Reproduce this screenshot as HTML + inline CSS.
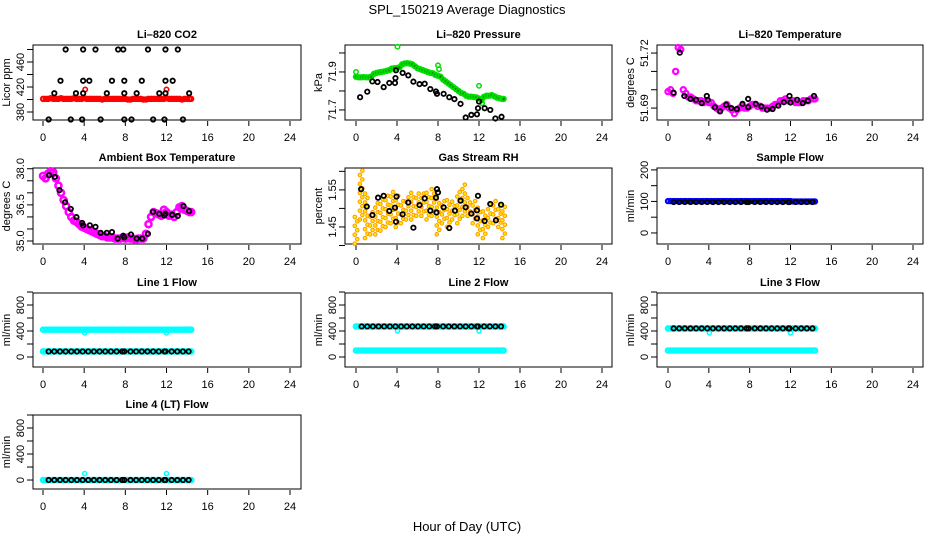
<!DOCTYPE html>
<html><head><meta charset="utf-8"><title>SPL_150219 Average Diagnostics</title>
<style>
html,body{margin:0;padding:0;background:#fff;}
svg{display:block;font-family:"Liberation Sans",Arial,sans-serif;}
</style></head>
<body>
<svg id="chart" width="936" height="540" viewBox="0 0 936 540" xmlns="http://www.w3.org/2000/svg">
<rect x="0" y="0" width="936" height="540" fill="#fff"/>
<text x="467" y="14" font-size="13" text-anchor="middle">SPL_150219  Average Diagnostics</text>
<text x="467" y="531" font-size="13" text-anchor="middle">Hour of Day (UTC)</text>
</svg>
<script>
// ---------- data ----------
const gridHours = [0,0.25,0.5,0.75,1,1.25,1.5,1.75,2,2.25,2.5,2.75,3,3.25,3.5,3.75,4,4.25,4.5,4.75,5,5.25,5.5,5.75,6,6.25,6.5,6.75,7,7.25,7.5,7.75,8,8.25,8.5,8.75,9,9.25,9.5,9.75,10,10.25,10.5,10.75,11,11.25,11.5,11.75,12,12.25,12.5,12.75,13,13.25,13.5,13.75,14,14.25,14.4];
const sparseHours = [0.55,1.1,1.65,2.2,2.75,3.3,3.85,4.4,4.95,5.5,6.05,6.6,7.15,7.7,7.9,8.5,9.05,9.6,10.15,10.7,11.25,11.8,11.9,12.5,13.05,13.6,14.15];
const xTicks = [0,4,8,12,16,20,24];

// CO2
const co2Red = [401,401,401,402,401,401,401,402,401,401,401,401,402,401,401,401,402,401,401,401,401,401,401,400,401,401,401,401,401,401,401,401,401,400,400,401,401,401,401,400,400,401,401,401,401,401,401,401,402,401,401,401,401,401,400,401,401,401,401];
const co2RedOutHours = [4.1,12.0];
const co2RedOutVals = [416,416];
const co2BlackHours = [2.2,3.9,5.1,7.3,7.8,10.2,11.9,13.1, 1.7,3.9,4.5,6.7,7.9,9.6,11.9,12.6, 1.1,3.2,3.9,6.2,7.9,9.1,11.3,11.9,14.2, 0.55,2.7,3.8,5.6,7.9,8.6,10.7,11.8,13.6];
const co2BlackVals = [480,480,480,480,480,480,480,480, 430,430,430,430,430,430,430,430, 410,410,410,410,410,410,410,410,410, 368,368,368,368,368,368,368,368,368];

// Pressure
const presGreen = [71.875,71.872,71.872,71.873,71.872,71.872,71.876,71.89,71.895,71.898,71.9,71.903,71.906,71.91,71.918,71.92,71.921,71.925,71.94,71.945,71.946,71.944,71.94,71.93,71.92,71.915,71.91,71.905,71.9,71.895,71.893,71.885,71.88,71.875,71.86,71.85,71.84,71.83,71.82,71.81,71.8,71.79,71.785,71.775,71.77,71.77,71.768,71.766,71.76,71.752,71.77,71.775,71.775,71.778,71.772,71.765,71.762,71.758,71.758];
const presGreenOutHours = [0,4.05,8.0,8.1,12.0,12.3];
const presGreenOutVals = [71.9,72.033,71.935,71.915,71.827,71.735];
const presBlackHours = [0.4,1.1,1.6,2.1,2.7,3.25,3.8,3.85,3.9,4.55,5.1,5.6,6.2,6.7,7.25,7.8,7.9,8.55,9.1,9.6,10.2,10.7,11.25,11.8,11.9,12.0,12.55,13.1,13.6,14.2];
const presBlackVals = [71.767,71.796,71.85,71.847,71.82,71.842,71.842,71.868,71.909,71.895,71.882,71.849,71.836,71.838,71.81,71.797,71.785,71.785,71.767,71.757,71.732,71.66,71.674,71.677,71.709,71.744,71.709,71.7,71.655,71.664];

// Li-820 temperature
const tempMag = [51.699,51.7,51.698,51.71,51.723,51.722,51.7,51.698,51.696,51.696,51.695,51.694,51.694,51.694,51.693,51.694,51.693,51.693,51.691,51.69,51.689,51.69,51.691,51.692,51.69,51.689,51.687,51.689,51.69,51.691,51.69,51.69,51.691,51.692,51.692,51.691,51.691,51.69,51.69,51.69,51.69,51.691,51.692,51.692,51.694,51.694,51.695,51.694,51.694,51.694,51.693,51.693,51.693,51.694,51.694,51.694,51.695,51.695,51.695];
const tempBlackHours = [0.55,1.15,1.6,2.2,2.75,3.3,3.8,3.9,4.6,5.1,5.7,6.2,6.75,7.3,7.85,7.85,8.6,9.15,9.7,10.25,10.8,11.35,11.9,12.0,12.65,13.2,13.7,14.3];
const tempBlackVals = [51.6984,51.7202,51.6966,51.695,51.6945,51.6927,51.6966,51.6945,51.6904,51.6882,51.6918,51.69,51.6895,51.6923,51.695,51.6905,51.6923,51.6909,51.6891,51.6895,51.6913,51.6932,51.6966,51.693,51.6945,51.6927,51.694,51.6966];

// Ambient box temperature
const ambMag = [37.7,37.6,37.8,37.9,37.85,37.6,37.3,37.0,36.7,36.45,36.2,36.0,35.85,35.8,35.7,35.6,35.55,35.5,35.45,35.4,35.35,35.3,35.25,35.2,35.2,35.15,35.15,35.15,35.1,35.1,35.1,35.15,35.1,35.15,35.1,35.1,35.05,35.1,35.1,35.1,35.3,35.7,36.0,36.2,36.15,36.1,36.05,36.3,36.2,36.05,36.1,36.0,36.2,36.4,36.45,36.3,36.25,36.2,36.2];
const ambBlackHours = [0.6,1.15,1.6,2.15,2.7,3.25,3.8,3.9,4.55,5.1,5.6,6.2,6.7,7.25,7.8,7.9,8.55,9.1,9.65,10.2,10.7,11.3,11.8,11.9,12.55,13.1,13.65,14.2];
const ambBlackVals = [37.73,37.66,37.11,36.61,36.33,35.99,35.75,35.65,35.65,35.59,35.34,35.34,35.37,35.1,35.22,35.15,35.27,35.1,35.1,35.3,36.21,36.13,36.06,36.13,36.09,36.04,36.45,36.24];

// Gas stream RH (spread of dense samples)
const rhHours = [0,0.5,1,1.5,2,2.5,3,3.5,4,4.5,5,5.5,6,6.5,7,7.5,8,8.5,9,9.5,10,10.5,11,11.5,12,12.5,13,13.5,14,14.4];
const rhLo = [1.405,1.47,1.42,1.43,1.43,1.44,1.45,1.46,1.45,1.46,1.47,1.47,1.48,1.48,1.47,1.48,1.43,1.46,1.45,1.47,1.46,1.48,1.48,1.46,1.43,1.42,1.45,1.46,1.45,1.42];
const rhHi = [1.48,1.61,1.54,1.50,1.52,1.53,1.54,1.555,1.54,1.53,1.54,1.55,1.55,1.54,1.55,1.56,1.53,1.52,1.53,1.52,1.55,1.57,1.53,1.53,1.51,1.50,1.52,1.52,1.52,1.51];
const rhBlackHours = [0.5,1.05,1.6,2.15,2.7,3.25,3.8,3.9,3.95,4.55,5.1,5.6,6.2,6.7,7.25,7.8,7.9,8.0,7.85,8.55,9.1,9.65,10.2,10.7,11.25,11.8,11.8,11.9,12.55,13.1,13.65,14.15];
const rhBlackVals = [1.552,1.505,1.482,1.529,1.534,1.493,1.502,1.464,1.532,1.484,1.516,1.448,1.509,1.527,1.494,1.529,1.552,1.543,1.489,1.503,1.447,1.494,1.521,1.503,1.486,1.495,1.473,1.534,1.466,1.512,1.468,1.51];

// Sample flow
const sampleBlue = [101,101,101,101,101,101,101,101,101,101,101,101,101,101,101,101,101,101,101,101,101,101,101,101,101,101,101,101,101,101,101,101,101,101,101,101,101,101,101,101,101,101,101,101,101,101,101,101,101,100,100,100,100,100,100,100,100,100,100];
const sampleBlack = [98,98,98,98,98,98,98,98,98,98,98,98,98,98,98,98,98,98,98,98,98,98,98,98,98,98,98];

// Line flows
const line1High = [420,420,420,420,420,420,420,420,420,420,420,420,420,420,420,420,420,420,420,420,420,420,420,420,420,420,420,420,420,420,420,420,420,420,420,420,420,420,420,420,420,420,420,420,420,420,420,420,420,420,420,420,420,420,420,420,420,420,420];
const line1Low = [85,85,85,85,85,85,85,85,85,85,85,85,85,85,85,85,85,85,85,85,85,85,85,85,85,85,85,85,85,85,85,85,85,85,85,85,85,85,85,85,85,85,85,85,85,85,85,85,85,85,85,85,85,85,85,85,85,85,85];
const line1Black = [85,85,85,85,85,85,85,85,85,85,85,85,85,85,85,85,85,85,85,85,85,85,85,85,85,85,85];
const line2High = [470,470,470,470,470,470,470,470,470,470,470,470,470,470,470,470,470,470,470,470,470,470,470,470,470,470,470,470,470,470,470,470,470,470,470,470,470,470,470,470,470,470,470,470,470,470,470,470,470,470,470,470,470,470,470,470,470,470,470];
const line2Low = [100,100,100,100,100,100,100,100,100,100,100,100,100,100,100,100,100,100,100,100,100,100,100,100,100,100,100,100,100,100,100,100,100,100,100,100,100,100,100,100,100,100,100,100,100,100,100,100,100,100,100,100,100,100,100,100,100,100,100];
const line2Black = [470,470,470,470,470,470,470,470,470,470,470,470,470,470,470,470,470,470,470,470,470,470,470,470,470,470,470];
const line3High = [440,440,440,440,440,440,440,440,440,440,440,440,440,440,440,440,440,440,440,440,440,440,440,440,440,440,440,440,440,440,440,440,440,440,440,440,440,440,440,440,440,440,440,440,440,440,440,440,440,440,440,440,440,440,440,440,440,440,440];
const line3Low = [100,100,100,100,100,100,100,100,100,100,100,100,100,100,100,100,100,100,100,100,100,100,100,100,100,100,100,100,100,100,100,100,100,100,100,100,100,100,100,100,100,100,100,100,100,100,100,100,100,100,100,100,100,100,100,100,100,100,100];
const line3Black = [440,440,440,440,440,440,440,440,440,440,440,440,440,440,440,440,440,440,440,440,440,440,440,440,440,440,440];
const line4Cyan = [0,0,0,0,0,0,0,0,0,0,0,0,0,0,0,0,0,0,0,0,0,0,0,0,0,0,0,0,0,0,0,0,0,0,0,0,0,0,0,0,0,0,0,0,0,0,0,0,0,0,0,0,0,0,0,0,0,0,0];
const line4Black = [0,0,0,0,0,0,0,0,0,0,0,0,0,0,0,0,0,0,0,0,0,0,0,0,0,0,0];
const dipHours = [4.05,12.0];
const line1Dips = [370,370];
const line2Dips = [400,400];
const line3Dips = [370,370];
const line4Dips = [100,100];

// ---------- drawing ----------
const NS = 'http://www.w3.org/2000/svg';
const svg = document.getElementById('chart');
function mk(tag, attrs, parent){
  const e = document.createElementNS(NS, tag);
  for (const k in attrs) e.setAttribute(k, attrs[k]);
  (parent||svg).appendChild(e);
  return e;
}
const cols = [{l:33,r:301,x0:43,x24:290},{l:345,r:612,x0:356,x24:602},{l:657,r:923,x0:668,x24:913}];
const rows = [{t:45,b:120},{t:168,b:244},{t:293,b:367},{t:415,b:489}];

function panel(name, title, ylab, ci, ri, yMin, yMax, yTicks, yLabels){
  const c = cols[ci], r = rows[ri];
  const g = mk('g', {});
  
  
  const xs = h => c.x0 + (h/24)*(c.x24 - c.x0);
  const ys = v => r.b - (v - yMin)/(yMax - yMin)*(r.b - r.t);
  const box = mk('rect', {x:c.l, y:r.t, width:c.r-c.l, height:r.b-r.t, fill:'none', stroke:'#000', 'stroke-width':1}, g);
  
  
  const tt = mk('text', {x:(c.l+c.r)/2, y:r.t-7, 'font-size':11, 'font-weight':'bold', 'text-anchor':'middle'}, g);
  tt.textContent = title;
  
  
  const xa = mk('g', {}, g);
  
  
  xTicks.forEach(t => {
    const x = xs(t);
    mk('line', {x1:x, x2:x, y1:r.b+1, y2:r.b+6, stroke:'#000'}, xa);
    const lb = mk('text', {x:x, y:r.b+21, 'font-size':11, 'text-anchor':'middle'}, xa);
    lb.textContent = t;
  });
  const ya = mk('g', {}, g);
  
  
  yTicks.forEach(t => {
    const y = ys(t);
    mk('line', {x1:c.l-6, x2:c.l, y1:y, y2:y, stroke:'#000'}, ya);
  });
  yLabels.forEach(t => {
    const y = ys(+t);
    const lx = c.l - 9;
    const lb = mk('text', {x:lx, y:y, 'font-size':11, 'text-anchor':'middle', transform:`rotate(-90 ${lx} ${y})`}, ya);
    lb.textContent = t;
  });
  const yt = mk('text', {x:c.l-23, y:(r.t+r.b)/2, 'font-size':11, 'text-anchor':'middle', transform:`rotate(-90 ${c.l-23} ${(r.t+r.b)/2})`}, g);
  yt.textContent = ylab;
  
  
  const clip = mk('g', {}, g);
  return {g:clip, xs, ys};
}
function series(p, name, hours, vals, color, rad, sw, fill){
  const s = mk('g', {}, p.g);
  
  
  hours.forEach((h, i) => {
    if (vals[i] === undefined) return;
    const c = mk('circle', {cx:p.xs(h), cy:p.ys(vals[i]), r:rad, fill:fill||'none', stroke:color, 'stroke-width':sw}, s);
    
    
  });
}
const blk = (p, name, hours, vals) => series(p, name, hours, vals, '#000', 2.2, 1.8, 'none');

// CO2
let p = panel('co2', 'Li\u2013820 CO2', 'Licor ppm', 0, 0, 367.2, 487.2, [380,400,420,440,460,480], ['380','420','460']);
series(p, 'co2-red-series', gridHours, co2Red, '#f00', 2.2, 2);
series(p, 'co2-red-outliers', co2RedOutHours, co2RedOutVals, '#f00', 2.2, 1.6);
blk(p, 'co2-black-points', co2BlackHours, co2BlackVals);

// Pressure
p = panel('pressure', 'Li\u2013820 Pressure', 'kPa', 1, 0, 71.647, 72.042, [71.7,71.8,71.9,72.0], ['71.7','71.9']);
series(p, 'pressure-green-series', gridHours, presGreen, '#00dd00', 2.2, 2, '#007700');
series(p, 'pressure-green-outliers', presGreenOutHours, presGreenOutVals, '#00dd00', 2.2, 1.5);
blk(p, 'pressure-black-points', presBlackHours, presBlackVals);

// Temperature
p = panel('li820-temp', 'Li\u2013820 Temperature', 'degrees C', 2, 0, 51.6835, 51.7244, [51.69,51.70,51.71,51.72], ['51.69','51.72']);
series(p, 'li820-temp-magenta-series', gridHours, tempMag, '#ff00ff', 2.6, 2.2);
blk(p, 'li820-temp-black-points', tempBlackHours, tempBlackVals);

// Ambient
p = panel('ambient-temp', 'Ambient Box Temperature', 'degrees C', 0, 1, 34.876, 38.03, [35,35.5,36,36.5,37,37.5,38], ['35.0','36.5','38.0']);
series(p, 'ambient-magenta-series', gridHours, ambMag, '#ff00ff', 3, 2.6);
blk(p, 'ambient-black-points', ambBlackHours, ambBlackVals);

// RH
p = panel('rh', 'Gas Stream RH', 'percent', 1, 1, 1.404, 1.609, [1.40,1.45,1.50,1.55,1.60], ['1.45','1.55']);
(function(){
  const s = mk('g', {}, p.g);
  
  
  rhHours.forEach((h, i) => {
    let k = 0;
    for (let v = rhLo[i]; v <= rhHi[i] + 1e-9; v += 0.012) {
      const dh = (k++ % 2) ? 0.12 : -0.12;
      mk('circle', {cx:p.xs(h+dh), cy:p.ys(v), r:1.8, fill:'#ffee00', stroke:'#ff9900', 'stroke-width':1}, s);
    }
  });
})();
blk(p, 'rh-black-points', rhBlackHours, rhBlackVals);

// Sample flow
p = panel('sample-flow', 'Sample Flow', 'ml/min', 2, 1, -35, 206, [0,50,100,150,200], ['0','100','200']);
series(p, 'sample-blue-series', gridHours, sampleBlue, '#0000ff', 2.2, 2);
blk(p, 'sample-black-points', sparseHours, sampleBlack);

// Line flows
const flowTicks = [0,200,400,600,800,1000], flowLabels = ['0','400','800'];
p = panel('line1-flow', 'Line 1 Flow', 'ml/min', 0, 2, -154, 985, flowTicks, flowLabels);
series(p, 'line1-cyan-high', gridHours, line1High, '#00ffff', 2.2, 2.2);
series(p, 'line1-cyan-low', gridHours, line1Low, '#00ffff', 2.2, 2.2);
series(p, 'line1-cyan-dips', dipHours, line1Dips, '#00ffff', 2, 1.5);
blk(p, 'line1-black-points', sparseHours, line1Black);

p = panel('line2-flow', 'Line 2 Flow', 'ml/min', 1, 2, -154, 985, flowTicks, flowLabels);
series(p, 'line2-cyan-high', gridHours, line2High, '#00ffff', 2.2, 2.2);
series(p, 'line2-cyan-low', gridHours, line2Low, '#00ffff', 2.2, 2.2);
series(p, 'line2-cyan-dips', dipHours, line2Dips, '#00ffff', 2, 1.5);
blk(p, 'line2-black-points', sparseHours, line2Black);

p = panel('line3-flow', 'Line 3 Flow', 'ml/min', 2, 2, -154, 985, flowTicks, flowLabels);
series(p, 'line3-cyan-high', gridHours, line3High, '#00ffff', 2.2, 2.2);
series(p, 'line3-cyan-low', gridHours, line3Low, '#00ffff', 2.2, 2.2);
series(p, 'line3-cyan-dips', dipHours, line3Dips, '#00ffff', 2, 1.5);
blk(p, 'line3-black-points', sparseHours, line3Black);

p = panel('line4-flow', 'Line 4 (LT) Flow', 'ml/min', 0, 3, -138, 1000, flowTicks, flowLabels);
series(p, 'line4-cyan-series', gridHours, line4Cyan, '#00ffff', 2.2, 2.2);
series(p, 'line4-cyan-spikes', dipHours, line4Dips, '#00ffff', 2, 1.5);
blk(p, 'line4-black-points', sparseHours, line4Black);
</script>
</body></html>
